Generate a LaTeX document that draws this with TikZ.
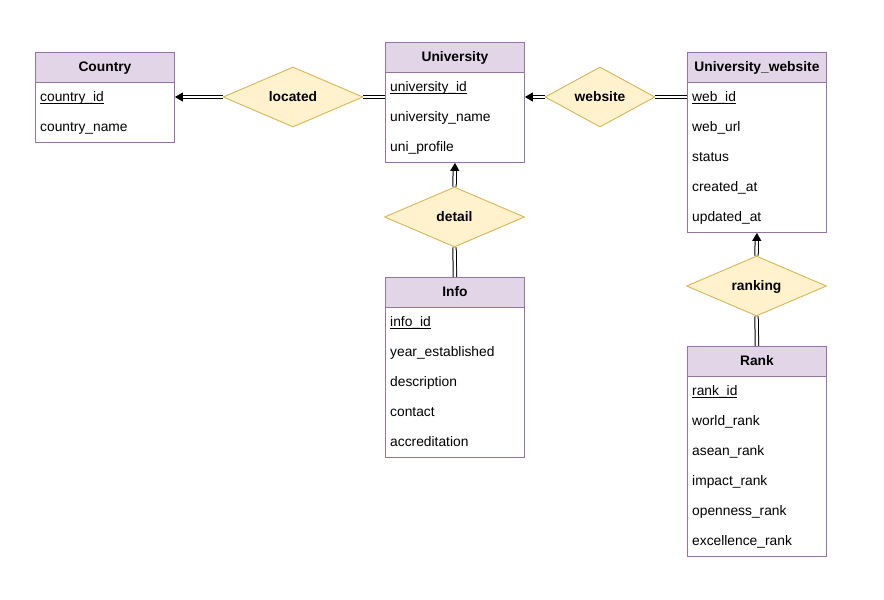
\documentclass[tikz,border=0pt]{standalone}
\usepackage{fontspec}
\setmainfont{Liberation Sans}
\usetikzlibrary{shapes.geometric,arrows.meta}
\definecolor{entf}{HTML}{E1D5E7}
\definecolor{entb}{HTML}{9673A6}
\definecolor{relf}{HTML}{FFF2CC}
\definecolor{relb}{HTML}{D6B656}
\newcommand{\fsz}{\fontsize{13.8}{16}\selectfont}
% primary key attributes: thin underline just below the baseline
\newsavebox{\pkeybox}
\newcommand{\pkey}[1]{\sbox{\pkeybox}{#1}\rlap{\rule[-2.2pt]{\wd\pkeybox}{0.8pt}}\usebox{\pkeybox}}
\begin{document}
\begin{tikzpicture}[x=1pt,y=-1pt,
  hdr/.style={draw=entb, fill=entf, line width=0.9pt, minimum width=139pt, minimum height=30pt,
    anchor=north west, inner sep=0pt, text height=9pt, text depth=0pt, font=\fsz\bfseries},
  body/.style={draw=entb, fill=white, line width=0.9pt, minimum width=139pt, anchor=north west, inner sep=0pt},
  attr/.style={anchor=base west, inner sep=0pt, font=\fsz},
  rel/.style={diamond, draw=relb, fill=relf, line width=0.9pt, inner sep=0pt,
    text height=9pt, text depth=0pt, font=\fsz\bfseries},
  link/.style={draw=black, line width=1pt, double=white, double distance=2.4pt},
  tolink/.style={link, -{Triangle[length=8pt,width=9pt]}}
]
\useasboundingbox (0,0) rectangle (884,600);

% Country
\node[hdr] (countryH) at (35,52) {Country};
\node[body, minimum height=60pt] (countryB) at (35,82) {};
\node[attr] (countryA1) at (40,101.5) {\pkey{country\_id}};
\node[attr] (countryA2) at (40,131.5) {country\_name};

% University
\node[hdr] (uniH) at (385,42) {University};
\node[body, minimum height=90pt] (uniB) at (385,72) {};
\node[attr] (uniA1) at (390,91.5) {\pkey{university\_id}};
\node[attr] (uniA2) at (390,121.5) {university\_name};
\node[attr] (uniA3) at (390,151.5) {uni\_profile};

% University_website
\node[hdr] (webH) at (687,52) {University\_website};
\node[body, minimum height=150pt] (webB) at (687,82) {};
\node[attr] (webA1) at (692,101.5) {\pkey{web\_id}};
\node[attr] (webA2) at (692,131.5) {web\_url};
\node[attr] (webA3) at (692,161.5) {status};
\node[attr] (webA4) at (692,191.5) {created\_at};
\node[attr] (webA5) at (692,221.5) {updated\_at};

% Info
\node[hdr] (infoH) at (385,277) {Info};
\node[body, minimum height=150pt] (infoB) at (385,307) {};
\node[attr] (infoA1) at (390,326.5) {\pkey{info\_id}};
\node[attr] (infoA2) at (390,356.5) {year\_established};
\node[attr] (infoA3) at (390,386.5) {description};
\node[attr] (infoA4) at (390,416.5) {contact};
\node[attr] (infoA5) at (390,446.5) {accreditation};

% Rank
\node[hdr] (rankH) at (687,346) {Rank};
\node[body, minimum height=180pt] (rankB) at (687,376) {};
\node[attr] (rankA1) at (692,395.5) {\pkey{rank\_id}};
\node[attr] (rankA2) at (692,425.5) {world\_rank};
\node[attr] (rankA3) at (692,455.5) {asean\_rank};
\node[attr] (rankA4) at (692,485.5) {impact\_rank};
\node[attr] (rankA5) at (692,515.5) {openness\_rank};
\node[attr] (rankA6) at (692,545.5) {excellence\_rank};

% Relationships
\node[rel, minimum width=140pt, minimum height=60pt] (located) at (293,97) {located};
\node[rel, minimum width=110pt, minimum height=60pt] (website) at (600,97) {website};
\node[rel, minimum width=140pt, minimum height=60pt] (detail) at (454.5,217) {detail};
\node[rel, minimum width=140pt, minimum height=60pt] (ranking) at (756.5,286) {ranking};

% Connectors
\draw[tolink] (located.west) -- (located.west -| countryB.east);
\draw[link] (located.east) -- (located.east -| uniB.west);
\draw[tolink] (website.west) -- (website.west -| uniB.east);
\draw[link] (website.east) -- (website.east -| webB.west);
\draw[tolink] (detail.north) -- (uniB.south);
\draw[link] (detail.south) -- (infoH.north);
\draw[tolink] (ranking.north) -- (webB.south);
\draw[link] (ranking.south) -- (rankH.north);
\end{tikzpicture}
\end{document}
